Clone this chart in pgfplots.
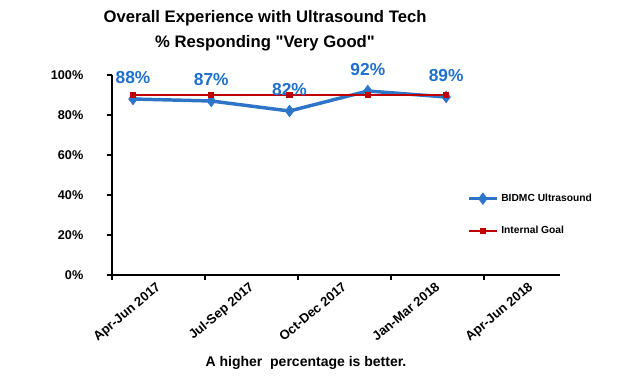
\documentclass[border=0pt]{standalone}
\usepackage{pgfplots}
\pgfplotsset{compat=1.18}
\usepackage{fontspec}
\setmainfont{Liberation Sans}
\definecolor{bblue}{RGB}{46,117,199}
\definecolor{lblue}{RGB}{31,112,205}
\definecolor{gred}{RGB}{192,0,0}
\begin{document}
\begin{tikzpicture}
\path[use as bounding box] (-84pt,-75pt) rectangle (381pt,206.25pt);
\begin{axis}[at={(0pt,0pt)}, anchor=south west, scale only axis,
  width=336pt, height=150pt,
  xmin=-0.268, xmax=5.455, ymin=0, ymax=100,
  axis lines=left, axis line style={line width=1.5pt, -},
  ytick={0,20,40,60,80,100},
  yticklabel={\pgfmathprintnumber{\tick}\%},
  /pgf/number format/assume math mode=true,
  tick align=outside, major tick length=4pt,
  tick style={line width=1.2pt, black},
  yticklabel style={font=\bfseries\fontsize{9.5}{11}\selectfont, xshift=-14pt},
  xtick={-0.268,0.920,2.109,3.297,4.486},
  xticklabels={},
  extra x ticks={0.245,1.434,2.622,3.811,4.999},
  extra x tick labels={Apr-Jun 2017,Jul-Sep 2017,Oct-Dec 2017,Jan-Mar 2018,Apr-Jun 2018},
  extra x tick style={major tick length=0pt, tick style={draw=none},
    xticklabel style={font=\bfseries\fontsize{9.8}{11}\selectfont, rotate=40, anchor=north east, inner sep=1pt, yshift=-4pt}},
  clip=false,
  legend style={at={(0.792,0.42)}, anchor=north west, draw=none, fill=none,
    font=\bfseries\fontsize{7.7}{9}\selectfont, row sep=13pt, inner sep=0pt},
  legend cell align=left,
  legend image code/.code={\draw[mark repeat=2,mark phase=2,#1] plot coordinates {(0cm,0cm) (0.37cm,0cm) (0.74cm,0cm)};},
]
\addplot[color=bblue, line width=2.6pt, mark=diamond*, mark size=4.3pt,
  mark options={line width=0.5pt},
  nodes near coords={\pgfmathprintnumber{\pgfplotspointmeta}\%},
  every node near coord/.append style={anchor=center, yshift=15.75pt, text=lblue,
    font=\bfseries\fontsize{13}{15}\selectfont}]
  coordinates {(0,88) (1,87) (2,82) (3,92) (4,89)};
\addlegendentry{BIDMC Ultrasound}
\addplot[color=gred, line width=1.4pt, mark=square*, mark size=1.6pt]
  coordinates {(0,90) (1,90) (2,90) (3,90) (4,90)};
\addlegendentry{Internal Goal}
\end{axis}
\node[font=\bfseries\fontsize{12.5}{14}\selectfont] at (114.75pt,192.75pt) {Overall Experience with Ultrasound Tech};
\node[font=\bfseries\fontsize{12.5}{14}\selectfont] at (114.75pt,174pt) {\% Responding \textquotedbl Very Good\textquotedbl};
\node[font=\bfseries\fontsize{10.5}{12}\selectfont] at (145.5pt,-66pt) {A higher\ \ percentage is better.};
\end{tikzpicture}
\end{document}
